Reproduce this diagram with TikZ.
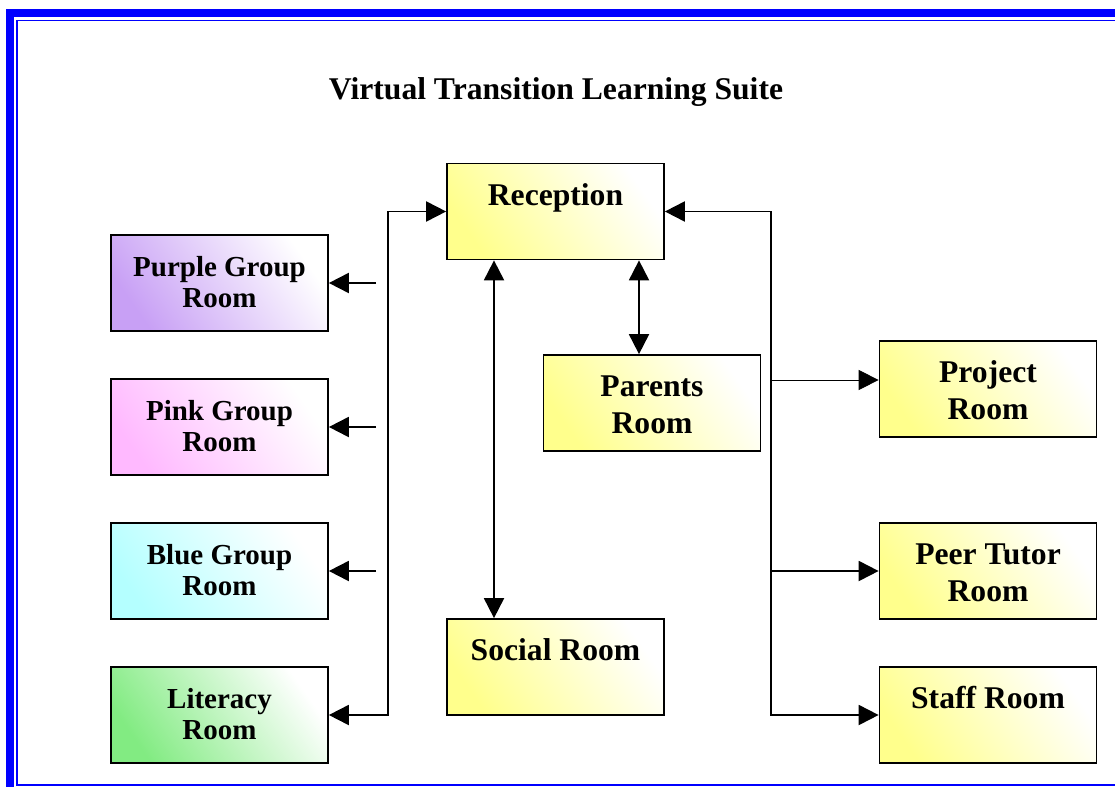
\documentclass[tikz,border=0pt]{standalone}
\usepackage{fontspec}
\setmainfont{Liberation Serif}
\usetikzlibrary{arrows.meta}
\definecolor{frameblue}{RGB}{0,0,255}
\definecolor{roomyellow}{RGB}{255,255,140}
\definecolor{roompurple}{RGB}{200,160,245}
\definecolor{roompink}{RGB}{255,185,255}
\definecolor{roomblue}{RGB}{180,255,255}
\definecolor{roomgreen}{RGB}{130,235,130}
% first-line struts, a little taller than \strut so the text sits lower in its box
\newcommand\bigtop{\rule{0pt}{20.4pt}}
\newcommand\smalltop{\rule{0pt}{15.7pt}}
\begin{document}
\begin{tikzpicture}[x=0.02cm,y=-0.02cm,
  room/.style={draw=black, line width=1pt, minimum width=4.34cm, minimum height=1.92cm,
    inner sep=0pt, align=center, font=\bfseries\fontsize{18}{21}\selectfont},
  leftroom/.style={room, font=\bfseries\fontsize{16.5}{17.6}\selectfont},
  fade/.style={bottom color=#1, middle color=#1!55!white, top color=white, shading angle=-55},
  link/.style={line width=1.1pt, -{Triangle[length=0.4cm,width=0.4cm]}},
  thinlink/.style={line width=0.5pt, -{Triangle[length=0.4cm,width=0.4cm]}},
  twoway/.style={line width=1.1pt, {Triangle[length=0.4cm,width=0.4cm]}-{Triangle[length=0.4cm,width=0.4cm]}},
]
\useasboundingbox (0,0) rectangle (1115,787);
\clip (0,0) rectangle (1115,787);

% page frame: heavy outer band and thin inner rule
\draw[frameblue, line width=4.5pt] (10,13) rectangle (1140,810);
\draw[frameblue, line width=1.1pt] (17,20.5) rectangle (1130,785);

% title
\node[font=\bfseries\fontsize{18}{21}\selectfont] (title) at (556,92) {Virtual Transition Learning Suite};

% rooms
\node[room, fade=roomyellow] (reception) at (555.5,211.5) {\bigtop Reception\\\strut};
\node[leftroom, fade=roompurple] (purple) at (219.5,283) {\smalltop Purple Group\\Room\strut};
\node[leftroom, fade=roompink] (pink) at (219.5,427) {\smalltop Pink Group\\Room\strut};
\node[leftroom, fade=roomblue] (blue) at (219.5,571) {\smalltop Blue Group\\Room\strut};
\node[leftroom, fade=roomgreen] (literacy) at (219.5,715) {\smalltop Literacy\\Room\strut};
\node[room, fade=roomyellow] (parents) at (652,403) {\bigtop Parents\\Room\strut};
\node[room, fade=roomyellow] (social) at (555.5,667) {\bigtop Social Room\\\strut};
\node[room, fade=roomyellow] (project) at (988,389) {\bigtop Project\\Room\strut};
\node[room, fade=roomyellow] (peer) at (988,571) {\bigtop Peer Tutor\\Room\strut};
\node[room, fade=roomyellow] (staff) at (988,715) {\bigtop Staff Room\\\strut};

% routing points
\coordinate (lbus) at (388,211.5);
\coordinate (rbus) at (771,211.5);
\coordinate (socx) at (494,0);
\coordinate (parx) at (639,0);
\coordinate (purpleT) at (376,283);
\coordinate (pinkT) at (376,427);
\coordinate (blueT) at (376,571);
\coordinate (projT) at (770,380);

% left corridor
\draw[twoway] (reception.west) -- (lbus) |- (literacy.east);
\draw[link] (purpleT) -- (purple.east);
\draw[link] (pinkT) -- (pink.east);
\draw[link] (blueT) -- (blue.east);

% centre links
\draw[twoway] (reception.south -| socx) -- (social.north -| socx);
\draw[twoway] (reception.south -| parx) -- (parents.north -| parx);

% right corridor
\draw[twoway] (reception.east) -- (rbus) |- (staff.west);
\draw[link] (rbus |- peer.west) -- (peer.west);
\draw[thinlink] (projT) -- (projT -| project.west);
\end{tikzpicture}
\end{document}
